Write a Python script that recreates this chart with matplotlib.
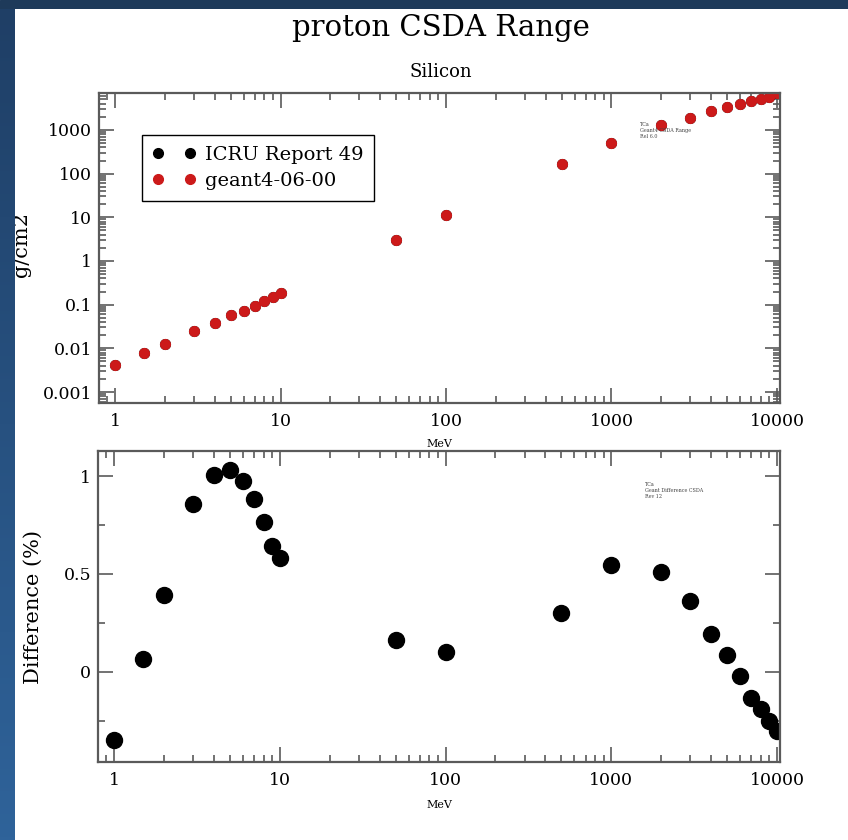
import numpy as np
import matplotlib
matplotlib.use('Agg')
import matplotlib.pyplot as plt
from matplotlib.ticker import LogLocator, NullFormatter, FixedLocator, MultipleLocator
from matplotlib.colors import LinearSegmentedColormap

plt.rcParams['font.family'] = 'DejaVu Serif'

# energies (MeV)
energy = [1, 1.5, 2, 3, 4, 5, 6, 7, 8, 9, 10, 50, 100, 500, 1000,
          2000, 3000, 4000, 5000, 6000, 7000, 8000, 9000, 10000]

# CSDA range (g/cm2) - ICRU and geant4 overlap on this scale
range_icru = [0.0041, 0.0079, 0.0126, 0.0249, 0.0386, 0.057, 0.073, 0.093,
              0.119, 0.147, 0.182, 3.1, 11.3, 166, 496,
              1300, 1860, 2700, 3400, 3950, 4600, 5050, 5700, 6900]
range_geant4 = [0.0041, 0.0079, 0.0126, 0.0249, 0.0386, 0.057, 0.073, 0.093,
                0.119, 0.147, 0.182, 3.1, 11.3, 166, 496,
                1300, 1860, 2700, 3400, 3950, 4600, 5050, 5700, 6900]

# difference (%)
diff = [-0.35, 0.065, 0.395, 0.855, 1.005, 1.03, 0.975, 0.882, 0.763, 0.645, 0.58,
        0.165, 0.10, 0.303, 0.546, 0.508, 0.362, 0.192, 0.088, -0.02,
        -0.131, -0.19, -0.25, -0.30]

spine_col = '#5a5a5a'
red = '#cc1a1a'

fig = plt.figure(figsize=(8.48, 8.40), dpi=100)
fig.patch.set_facecolor('white')

ax1 = fig.add_axes([99/848, 1-403/840, 681/848, 310/840])
ax2 = fig.add_axes([98/848, 1-762/840, 682/848, 311/840])


def style(ax):
    for s in ax.spines.values():
        s.set_color(spine_col)
        s.set_linewidth(1.6)
    ax.tick_params(which='both', direction='in', top=True, right=True,
                   color=spine_col, labelsize=12.5, width=1.2)
    ax.tick_params(which='major', length=11)
    ax.tick_params(which='minor', length=5)
    ax.tick_params(axis='x', pad=7)
    ax.tick_params(axis='y', pad=5)
    ax.set_xscale('log')
    ax.set_xlim(0.8, 10430)
    ax.xaxis.set_major_locator(FixedLocator([1, 10, 100, 1000, 10000]))
    ax.set_xticklabels(['1', '10', '100', '1000', '10000'])
    ax.xaxis.set_minor_locator(LogLocator(base=10, subs=np.arange(2, 10), numticks=20))
    ax.xaxis.set_minor_formatter(NullFormatter())


# top panel
style(ax1)
ax1.set_yscale('log')
ax1.set_ylim(5.6e-4, 7030)
ax1.yaxis.set_major_locator(FixedLocator([0.001, 0.01, 0.1, 1, 10, 100, 1000]))
ax1.set_yticklabels(['0.001', '0.01', '0.1', '1', '10', '100', '1000'])
ax1.yaxis.set_minor_locator(LogLocator(base=10, subs=np.arange(2, 10), numticks=20))
ax1.yaxis.set_minor_formatter(NullFormatter())
ax1.plot(energy, range_icru, 'o', color='black', ms=7, ls='none', label='ICRU Report 49')
ax1.plot(energy, range_geant4, 'o', color=red, ms=7, ls='none', label='geant4-06-00')
ax1.set_xlabel('MeV', fontsize=8)
ax1.xaxis.set_label_coords(0.5, -0.115)
ax1.set_ylabel('g/cm2', fontsize=15)
ax1.yaxis.set_label_coords(-0.100, 0.51)
leg = ax1.legend(loc='upper left', bbox_to_anchor=(0.063, 0.865), numpoints=2,
                 handlelength=2.2, fontsize=14, fancybox=False, framealpha=1,
                 borderpad=0.55, labelspacing=0.45, handletextpad=0.5, borderaxespad=0)
leg.get_frame().set_edgecolor('black')
leg.get_frame().set_linewidth(1.0)
ax1.text(0.794, 0.905, 'TCa\nGeant4 CSDA Range\nRel 6.0', transform=ax1.transAxes,
         fontsize=3.5, va='top', ha='left', color='#444444', linespacing=1.2)

# bottom panel
style(ax2)
ax2.set_ylim(-0.46, 1.128)
ax2.yaxis.set_major_locator(FixedLocator([0, 0.5, 1]))
ax2.set_yticklabels(['0', '0.5', '1'])
ax2.yaxis.set_minor_locator(MultipleLocator(0.25))
ax2.plot(energy, diff, 'o', color='black', ms=11.5, ls='none')
ax2.set_xlabel('MeV', fontsize=8)
ax2.xaxis.set_label_coords(0.5, -0.122)
ax2.set_ylabel('Difference (%)', fontsize=15)
ax2.yaxis.set_label_coords(-0.081, 0.50)
ax2.text(0.802, 0.90, 'TCa\nGeant Difference CSDA\nRev 12', transform=ax2.transAxes,
         fontsize=3.5, va='top', ha='left', color='#444444', linespacing=1.2)

# titles
fig.text(0.52, 1-28/840, 'proton CSDA Range', ha='center', va='center', fontsize=21)
fig.text(0.52, 1-72/840, 'Silicon', ha='center', va='center', fontsize=13)

# blue frame: top strip and left gradient strip
top_strip = fig.add_axes([0, 1-9/840, 1, 9/840], zorder=10)
top_strip.set_axis_off()
top_strip.add_patch(plt.Rectangle((0, 0), 1, 1, color='#1e3a5a', transform=top_strip.transAxes))

left_strip = fig.add_axes([0, 0, 15/848, 1-9/840], zorder=10)
grad = np.linspace(0, 1, 256).reshape(-1, 1)
cmap = LinearSegmentedColormap.from_list('bg', ['#1f3f66', '#2f639a'])
left_strip.imshow(grad, aspect='auto', cmap=cmap, extent=[0, 1, 1, 0])
left_strip.set_axis_off()

fig.savefig('out.png', dpi=100)
